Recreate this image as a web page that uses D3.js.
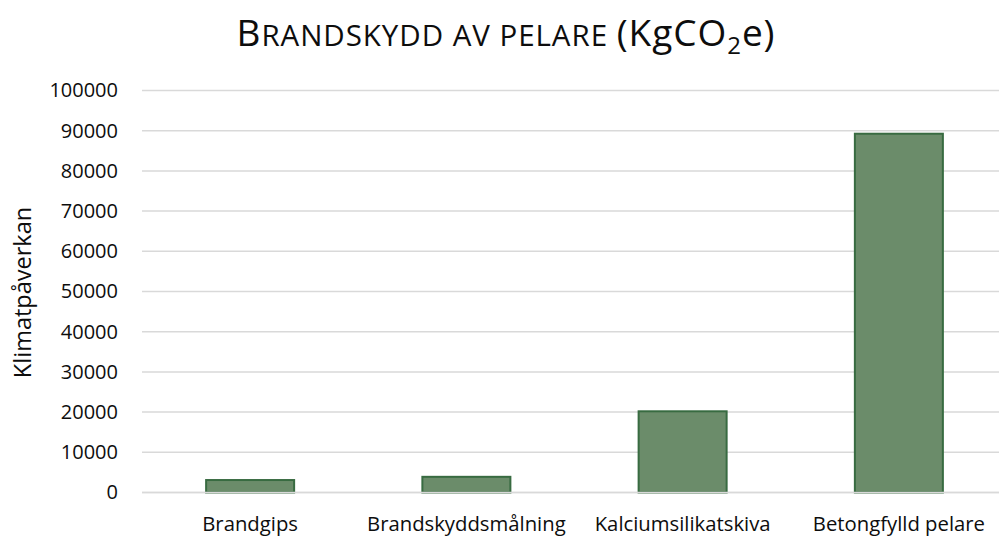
<!DOCTYPE html>
<html>
<head>
<meta charset="utf-8">
<script src="https://cdn.jsdelivr.net/npm/d3@7/dist/d3.min.js"></script>
<style>
  html, body { margin: 0; padding: 0; background: #fff; }
  svg { display: block; font-family: "Open Sans", "Noto Sans", sans-serif; }
</style>
</head>
<body>
<svg id="chart" width="999" height="536"></svg>
<script>
const categories = ["Brandgips", "Brandskyddsmålning", "Kalciumsilikatskiva", "Betongfylld pelare"];
const values = [3100, 3900, 20200, 89250];
const yTicks = [0, 10000, 20000, 30000, 40000, 50000, 60000, 70000, 80000, 90000, 100000];
const yAxisTitle = "Klimatpåverkan";

const textColor = "#0d0d0d";
const svg = d3.select("#chart");
const plotLeft = 142, plotRight = 1007, plotTop = 90.5, plotBottom = 492.5;

const x = d3.scaleBand().domain(categories).range([plotLeft, plotRight]).paddingInner(0.593).paddingOuter(0.2965);
const y = d3.scaleLinear().domain([0, 100000]).range([plotBottom, plotTop]);

// gridlines
svg.append("g").selectAll("line").data(yTicks).join("line")
  .attr("x1", plotLeft).attr("x2", plotRight)
  .attr("y1", d => y(d)).attr("y2", d => y(d))
  .attr("stroke", "#d9d9d9").attr("stroke-width", 1.5);

// y axis labels
const yAxis = d3.axisLeft(y).tickValues(yTicks).tickSize(0).tickPadding(0).tickFormat(d3.format("d"));
const gy = svg.append("g").attr("transform", `translate(118,0)`).call(yAxis);
gy.select(".domain").remove();
gy.selectAll("text").attr("font-size", 20).attr("fill", textColor)
  .attr("font-family", "'Open Sans', sans-serif");

// bars
svg.append("g").selectAll("rect").data(values).join("rect")
  .attr("x", (d, i) => x(categories[i]))
  .attr("width", x.bandwidth())
  .attr("y", d => y(d))
  .attr("height", d => y(0) - y(d))
  .attr("fill", "#6b8c6a")
  .attr("stroke", "#386b41")
  .attr("stroke-width", 2);

// baseline
svg.append("line").attr("x1", plotLeft).attr("x2", plotRight).attr("y1", y(0)).attr("y2", y(0))
  .attr("stroke", "#d9d9d9").attr("stroke-width", 1.5);

// x axis labels
const xAxis = d3.axisBottom(x).tickSize(0).tickPadding(0);
const gx = svg.append("g").attr("transform", `translate(0,${plotBottom})`).call(xAxis);
gx.select(".domain").remove();
gx.selectAll("text").attr("font-size", 20.3).attr("fill", textColor)
  .attr("font-family", "'Open Sans', sans-serif").attr("dy", null).attr("y", 38.5);

// y axis title
svg.append("text")
  .attr("transform", "translate(31,292.5) rotate(-90)")
  .attr("text-anchor", "middle")
  .attr("font-size", 23.5).attr("fill", textColor)
  .text(yAxisTitle);

// title
const title = svg.append("text")
  .attr("x", 506).attr("y", 46)
  .attr("text-anchor", "middle")
  .attr("fill", textColor)
  .attr("font-size", 37);
title.append("tspan").text("B");
title.append("tspan").attr("font-size", 29.5).text("RANDSKYDD AV PELARE ");
title.append("tspan").text("(KgCO");
title.append("tspan").attr("font-size", 24).attr("dy", 8).text("2");
title.append("tspan").attr("dy", -8).text("e)");
const targetW = 539;
const natW = title.node().getComputedTextLength();
const nChars = title.text().length;
title.attr("letter-spacing", ((targetW - natW) / nChars).toFixed(2));
</script>
</body>
</html>
